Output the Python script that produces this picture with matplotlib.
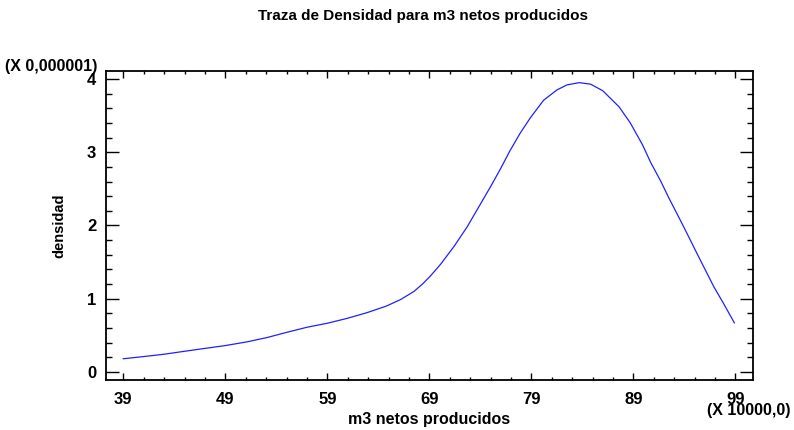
import matplotlib
matplotlib.use("Agg")
import matplotlib.pyplot as plt
from matplotlib.ticker import MultipleLocator, FixedLocator
import numpy as np

plt.rcParams['font.family'] = ['Liberation Sans', 'DejaVu Sans']

# m3 netos producidos (x 10000) vs densidad (x 0,000001)
x_vals = [39.0, 41.0, 42.9, 45.9, 49.0, 51.1, 53.1, 55.0, 57.0, 59.0, 60.9, 62.9,
          64.8, 66.2, 67.5, 68.4, 69.1, 70.1, 71.4, 72.7, 74.0, 75.0, 76.0, 76.9,
          77.9, 78.9, 80.2, 81.5, 82.5, 83.7, 84.8, 86.0, 87.6, 88.7, 89.9, 90.7,
          91.7, 92.5, 93.5, 94.3, 95.3, 96.1, 96.9, 97.9, 98.9]
dens = [0.18, 0.21, 0.24, 0.30, 0.36, 0.41, 0.47, 0.54, 0.61, 0.665, 0.73, 0.81,
        0.90, 0.99, 1.10, 1.21, 1.31, 1.47, 1.71, 1.98, 2.29, 2.53, 2.78, 3.02,
        3.26, 3.47, 3.71, 3.85, 3.92, 3.95, 3.93, 3.84, 3.62, 3.40, 3.10, 2.86,
        2.60, 2.37, 2.10, 1.88, 1.60, 1.38, 1.16, 0.92, 0.67]
x_ticks = [39, 49, 59, 69, 79, 89, 99]

fig = plt.figure(figsize=(7.94, 4.30), dpi=100)
ax = fig.add_axes([0.1335, 0.1163, 0.948 - 0.1335, 0.835 - 0.1163])

ax.plot(x_vals, dens, color='#2020ff', lw=0.9)

ax.set_xlim(37.3, 100.7)
ax.set_ylim(-0.11, 4.11)
ax.xaxis.set_major_locator(FixedLocator(x_ticks))
ax.xaxis.set_minor_locator(FixedLocator(np.arange(39, 100, 2)))
ax.yaxis.set_major_locator(MultipleLocator(1))
ax.yaxis.set_minor_locator(MultipleLocator(0.2))

for s in ax.spines.values():
    s.set_linewidth(1.3)

ax.tick_params(axis='x', which='both', direction='in', top=True, bottom=True, width=1.0)
ax.tick_params(axis='x', which='major', length=5, pad=9, labelsize=12)
ax.tick_params(axis='x', which='minor', length=2.5)
ax.tick_params(axis='y', which='both', direction='in', left=True, right=True, width=1.0)
ax.tick_params(axis='y', which='major', length=9.5, pad=7, labelsize=12)
ax.tick_params(axis='y', which='minor', length=4.5)
for lab in ax.get_xticklabels() + ax.get_yticklabels():
    lab.set_fontweight('bold')

ax.set_xlabel("m3 netos producidos", fontsize=11.5, fontweight='bold', labelpad=3)
ax.set_ylabel("densidad", fontsize=10.5, fontweight='bold', labelpad=15)
fig.text(0.533, 0.962, "Traza de Densidad para m3 netos producidos",
         ha='center', va='center', fontsize=11, fontweight='bold')
fig.text(0.006, 0.845, "(X 0,000001)", ha='left', va='center', fontsize=11.5, fontweight='bold')
fig.text(0.996, 0.045, "(X 10000,0)", ha='right', va='center', fontsize=11.5, fontweight='bold')

fig.savefig("out.png", dpi=100)
